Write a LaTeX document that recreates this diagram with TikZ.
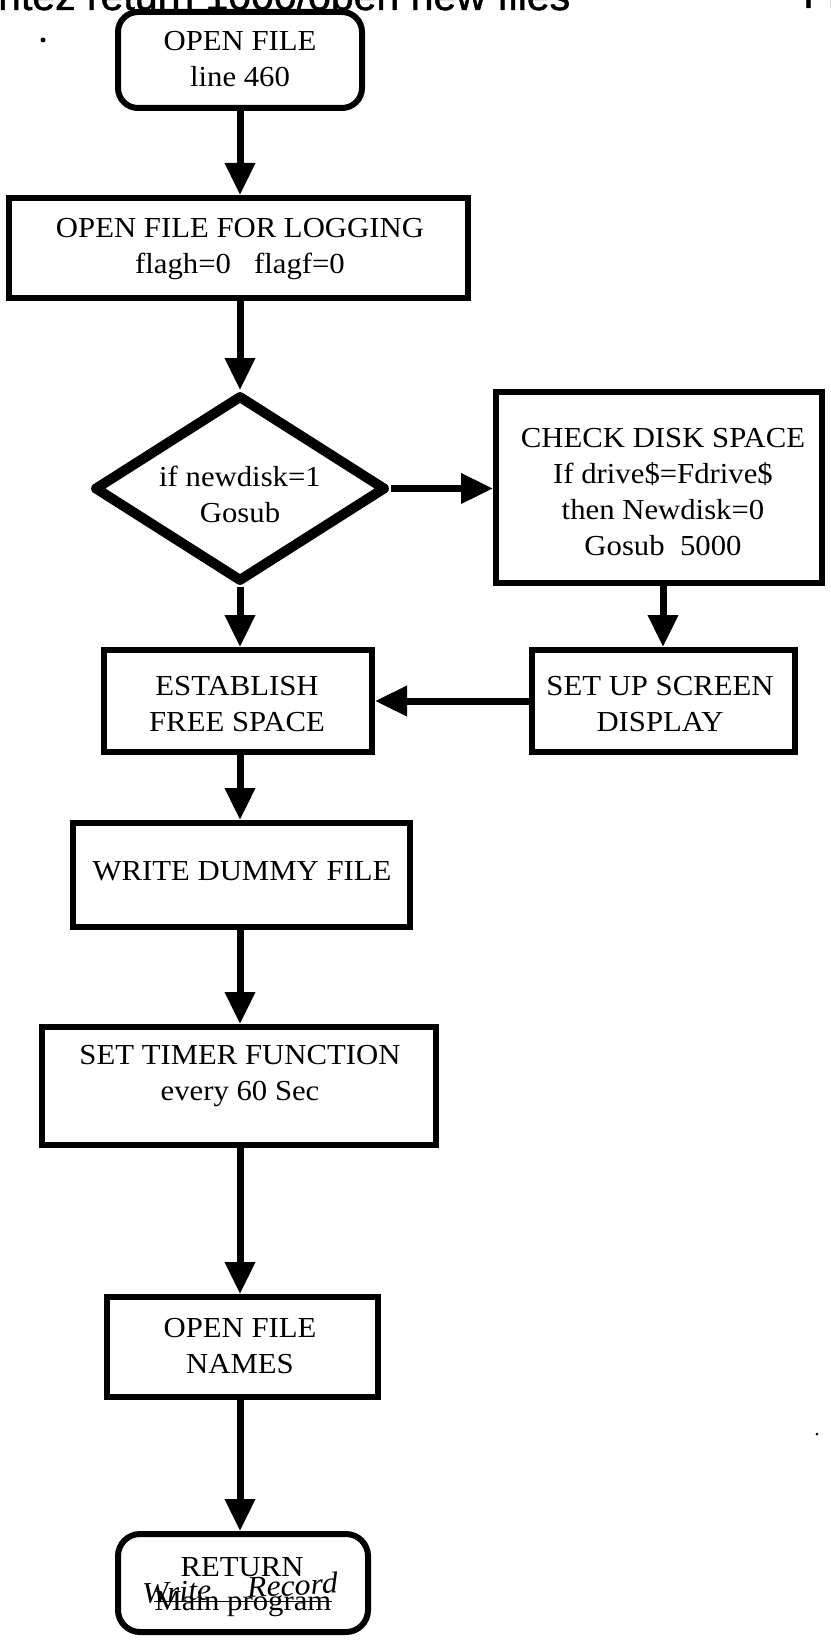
\documentclass[tikz,border=0pt]{standalone}
\usepackage{fontspec}
\setmainfont{Liberation Serif}[FakeStretch=1.06]
\newfontfamily\headfont{Liberation Sans}[FakeBold=1.2]
\usetikzlibrary{arrows.meta,shapes.geometric}

\begin{document}
\begin{tikzpicture}[x=1pt,y=-1pt,
  box/.style={draw,line width=6pt,fill=white,inner sep=0pt},
  roundbox/.style={box,rounded corners=20pt},
  decision/.style={draw,diamond,line width=10pt,line join=round,fill=white,inner sep=0pt},
  txt/.style={align=center,inner sep=0pt,font=\fontsize{29}{36}\selectfont},
  flow/.style={line width=7pt,-{Triangle[width=29pt,length=32pt]}},
  speck/.style={fill=black,inner sep=0pt,circle}]
\useasboundingbox (0,0) rectangle (830,1640);

% running head, cut by the top edge of the sheet
\node[anchor=base west,inner sep=0pt,font=\headfont\fontsize{41}{41}\selectfont] (head) at (-2,10) {ritez return 1000/open new files};
\node[anchor=base west,inner sep=0pt,font=\headfont\fontsize{41}{41}\selectfont] (headr) at (803,8) {Fi};
\node[speck,minimum size=5pt] (dot1) at (43,40) {};
\node[speck,minimum size=3pt] (dot2) at (817,1434) {};

% boxes
\node[roundbox,minimum width=244pt,minimum height=96pt] (b1) at (240,60) {};
\node[box,minimum width=459pt,minimum height=100pt] (b2) at (238.5,248) {};
\node[decision,minimum width=292pt,minimum height=187pt] (d) at (240,488.5) {};
\node[box,minimum width=326pt,minimum height=191pt] (b3) at (659,487.5) {};
\node[box,minimum width=268pt,minimum height=102pt] (b4) at (238,701) {};
\node[box,minimum width=263pt,minimum height=102pt] (b5) at (663,701) {};
\node[box,minimum width=337pt,minimum height=104pt] (b6) at (241.5,875) {};
\node[box,minimum width=394pt,minimum height=118pt] (b7) at (239,1086) {};
\node[box,minimum width=271pt,minimum height=100pt] (b8) at (242.5,1347) {};
\node[roundbox,minimum width=250pt,minimum height=98pt,rounded corners=22pt] (b9) at (243,1583) {};

% texts
\node[txt] (t1) at (240,59) {OPEN FILE\\line 460};
\node[txt] (t2) at (240,249) {OPEN FILE FOR LOGGING\\flagh=0~~~flagf=0};
\node[txt] (td) at (240,494) {if newdisk=1\\Gosub};
\node[txt] (t3) at (663,492) {CHECK DISK SPACE\\If drive\$=Fdrive\$\\then Newdisk=0\\Gosub~~5000};
\node[txt] (t4) at (237,704) {ESTABLISH\\FREE SPACE};
\node[txt] (t5) at (660,704) {SET UP SCREEN\\DISPLAY};
\node[txt] (t6) at (242,871) {WRITE DUMMY FILE};
\node[txt] (t7) at (240,1076) {SET TIMER FUNCTION\\every 60 Sec};
\node[txt] (t8) at (240,1346) {OPEN FILE\\NAMES};
\node[txt] (t9) at (242,1567) {RETURN};
\node[txt] (t9b) at (243,1604) {Main program};
\draw[line width=1.6pt] ([yshift=9pt]t9b.base west) -- ([yshift=9pt]t9b.base east);
\node[txt,font=\itshape\fontsize{30}{30}\selectfont,rotate=3] (hw) at (240,1588) {Write\hspace{36pt}Record};

% connectors
\draw[flow] (b1.south) -- (b1.south |- b2.north);
\draw[flow] (b1.south |- b2.south) -- (d.north);
\draw[flow] (d.east) -- (b3.west |- d.east);
\draw[flow] (b3.south -| b5.north) -- (b5.north);
\draw[flow] (b5.west) -- (b4.east);
\draw[flow] (d.south) -- (d.south |- b4.north);
\draw[flow] (d.south |- b4.south) -- (d.south |- b6.north);
\draw[flow] (d.south |- b6.south) -- (d.south |- b7.north);
\draw[flow] (d.south |- b7.south) -- (d.south |- b8.north);
\draw[flow] (d.south |- b8.south) -- (d.south |- b9.north);
\end{tikzpicture}
\end{document}
